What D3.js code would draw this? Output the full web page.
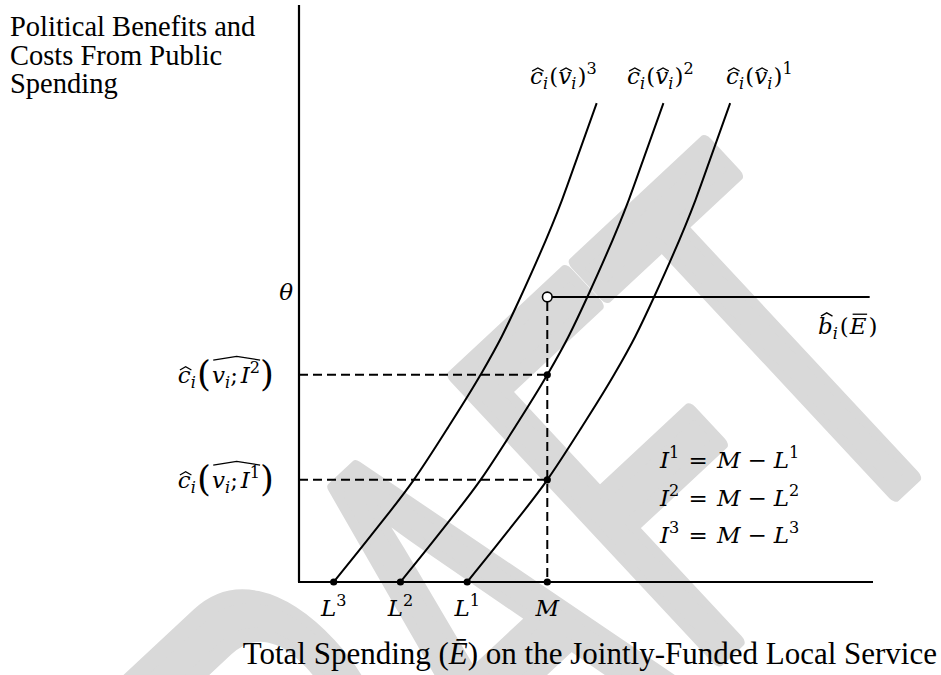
<!DOCTYPE html>
<html>
<head>
<meta charset="utf-8">
<script src="https://cdn.jsdelivr.net/npm/d3@7"></script>
<style>
  html, body { margin: 0; padding: 0; background: #fff; }
  svg { display: block; }
</style>
</head>
<body>
<svg id="chart" width="941" height="675"></svg>
<script>
// Cost curve shape: horizontal distance from the curve's starting spending level, and the cost reached there
const costOffsets = [0, 6.1, 12.0, 17.2, 22.0, 25.2, 28.0, 34.2, 36.9, 39.4];
const costValues  = [0, 8.8, 17.7, 26.9, 35.9, 42.6, 49.4, 66.2, 74.9, 83.0];

// Three cost curves, each starting at its own spending level L^k
const curveIds    = ["1", "2", "3"];
const curveStarts = [25.2, 15.2, 5.2];

// Spending level M and the flat political benefit level theta
const spendingM  = 37.2;
const theta      = 49.4;
const benefitEnd = 85.5;

// Tick labels on the spending axis
const tickBases  = ["L", "L", "L", "M"];
const tickSups   = ["3", "2", "1", ""];
const tickValues = [5.2, 15.2, 25.2, 37.2];

// Title lines
const titleLines = ["Political Benefits and", "Costs From Public", "Spending"];

// Watermark letters and their positions along the baseline (font units)
const wmLetters = ["D", "R", "A", "F", "T"];
const wmOffsets = [-142, -70, 0, 71.5, 129.5];

const svg = d3.select("#chart");

const x = d3.scaleLinear().domain([0, 86]).range([299, 873]);
const y = d3.scaleLinear().domain([0, 100]).range([582, 5]);

const serif = "'Liberation Serif', 'Times New Roman', serif";
const mathFont = "'DejaVu Serif', serif";

// ---- watermark ----
const wm = svg.append("g")
  .attr("transform", "translate(530.3,832.9) rotate(-43) scale(3.19,5.59)");
wm.append("text")
  .attr("font-family", "'Liberation Sans', Arial, sans-serif")
  .attr("font-size", 100)
  .attr("fill", "#d9d9d9")
  .attr("stroke", "#d9d9d9")
  .attr("stroke-width", 3)
  .attr("vector-effect", "non-scaling-stroke")
  .attr("stroke-linejoin", "round")
  .selectAll("tspan")
  .data(wmLetters)
  .join("tspan")
  .attr("x", (d, i) => wmOffsets[i])
  .text(d => d);

// ---- math label layout helper ----
// parts: {s, it, pos:'sub'|'sup', hat, bar, scale, gap, mark}
function mathLabel(parent, parts, fs, opts) {
  const g = parent.append("g");
  let cx = 0;
  const marks = {};
  parts.forEach(p => {
    if (p.mark) { marks[p.mark] = cx; return; }
    if (p.gap) { cx += p.gap * fs; return; }
    const scale = p.scale || 1;
    const size = p.pos ? fs * 0.7 : fs * scale;
    let dy = 0;
    if (p.pos === "sub") dy = fs * 0.22;
    else if (p.pos === "sup") dy = -fs * 0.42;
    else if (scale !== 1) dy = fs * (scale - 1) * 0.26;
    const t = g.append("text")
      .attr("x", cx).attr("y", dy)
      .attr("font-family", p.font || mathFont)
      .attr("font-size", size)
      .attr("font-style", p.it ? "italic" : "normal")
      .attr("fill", "#000")
      .text(p.s);
    const w = t.node().getComputedTextLength();
    if (p.hat) {
      // small circumflex over a single glyph
      const top = p.hat === "tall" ? -fs * 0.92 : -fs * 0.7;
      const mid = cx + w * 0.5 + fs * 0.06;
      const hw = fs * 0.25;
      g.append("path")
        .attr("d", `M${mid - hw},${top + fs * 0.14} L${mid},${top} L${mid + hw},${top + fs * 0.14}`)
        .attr("fill", "none").attr("stroke", "#000").attr("stroke-width", 1.3);
    }
    if (p.bar) {
      const top = -fs * 0.86;
      g.append("line")
        .attr("x1", cx + fs * 0.12).attr("x2", cx + w + fs * 0.02)
        .attr("y1", top).attr("y2", top)
        .attr("stroke", "#000").attr("stroke-width", 1.3);
    }
    cx += w + (p.kern || 0) * fs;
  });
  if (marks.ws !== undefined && marks.we !== undefined) {
    // wide hat spanning a group of glyphs
    const x0 = marks.ws + fs * 0.05, x1 = marks.we;
    const top = -fs * 1.15;
    g.append("path")
      .attr("d", `M${x0},${top + fs * 0.16} L${(x0 + x1) / 2},${top} L${x1},${top + fs * 0.16}`)
      .attr("fill", "none").attr("stroke", "#000").attr("stroke-width", 1.3);
  }
  const anchor = opts.anchor || "start";
  const dx = anchor === "end" ? -cx : anchor === "middle" ? -cx / 2 : 0;
  g.attr("transform", `translate(${opts.x + dx},${opts.y})`);
  return g;
}

const fsMath = 23;

// ---- axes ----
svg.append("line")
  .attr("x1", x(0)).attr("x2", x(0)).attr("y1", y(0)).attr("y2", y(100))
  .attr("stroke", "#000").attr("stroke-width", 2.2);
svg.append("line")
  .attr("x1", x(0) - 1).attr("x2", x(86)).attr("y1", y(0)).attr("y2", y(0))
  .attr("stroke", "#000").attr("stroke-width", 2.2);

// ---- cost curves ----
const line = d3.line()
  .x(d => x(d[0]))
  .y(d => y(d[1]))
  .curve(d3.curveMonotoneX);

curveStarts.forEach((L, k) => {
  const pts = costOffsets.map((o, i) => [L + o, costValues[i]]);
  svg.append("path")
    .attr("d", line(pts))
    .attr("fill", "none")
    .attr("stroke", "#000")
    .attr("stroke-width", 2);
});

// cost of the curve starting at L when spending reaches M
function costAtM(L) {
  const off = spendingM - L;
  const i = costOffsets.findIndex(o => Math.abs(o - off) < 1e-6);
  return costValues[i];
}
const cost1 = costAtM(curveStarts[0]);
const cost2 = costAtM(curveStarts[1]);

// ---- dashed guides ----
const dash = "9,5";
[cost1, cost2].forEach(c => {
  svg.append("line")
    .attr("x1", x(0)).attr("x2", x(spendingM))
    .attr("y1", y(c)).attr("y2", y(c))
    .attr("stroke", "#000").attr("stroke-width", 2).attr("stroke-dasharray", dash);
});
svg.append("line")
  .attr("x1", x(spendingM)).attr("x2", x(spendingM))
  .attr("y1", y(theta) + 5).attr("y2", y(0))
  .attr("stroke", "#000").attr("stroke-width", 2).attr("stroke-dasharray", dash);

// ---- benefit line ----
svg.append("line")
  .attr("x1", x(spendingM)).attr("x2", x(benefitEnd))
  .attr("y1", y(theta)).attr("y2", y(theta))
  .attr("stroke", "#000").attr("stroke-width", 2);

// ---- points ----
const dots = [[spendingM, cost1], [spendingM, cost2], [spendingM, 0]]
  .concat(curveStarts.map(L => [L, 0]));
svg.selectAll("circle.dot").data(dots).join("circle")
  .attr("class", "dot")
  .attr("cx", d => x(d[0])).attr("cy", d => y(d[1]))
  .attr("r", 3.6).attr("fill", "#000");
svg.append("circle")
  .attr("cx", x(spendingM)).attr("cy", y(theta))
  .attr("r", 4.8).attr("fill", "#fff").attr("stroke", "#000").attr("stroke-width", 1.6);

// ---- tick labels ----
tickValues.forEach((v, i) => {
  const parts = [{ s: tickBases[i], it: true }];
  if (tickSups[i]) parts.push({ s: tickSups[i], pos: "sup" });
  mathLabel(svg, parts, fsMath, { x: x(v), y: 616, anchor: "middle" });
});

// ---- curve labels ----
const curveLabelX = [726, 627, 530];
curveIds.forEach((id, k) => {
  mathLabel(svg, [
    { s: "c", it: true, hat: "short" }, { s: "i", it: true, pos: "sub", kern: 0.05 },
    { s: "(" }, { s: "v", it: true, hat: "short" }, { s: "i", it: true, pos: "sub", kern: 0.05 },
    { s: ")" }, { s: id, pos: "sup" }
  ], fsMath, { x: curveLabelX[k], y: 84, anchor: "start" });
});

// ---- theta and benefit labels ----
mathLabel(svg, [{ s: "θ", it: true }], fsMath, { x: 293, y: 300, anchor: "end" });
mathLabel(svg, [
  { s: "b", it: true, hat: "tall" }, { s: "i", it: true, pos: "sub", kern: 0.08 },
  { s: "(", kern: 0.05 }, { s: "E", it: true, bar: true, kern: 0.08 }, { s: ")" }
], fsMath, { x: 818, y: 334, anchor: "start" });

// ---- cost level labels on the vertical axis ----
function costLabel(sup, c) {
  mathLabel(svg, [
    { s: "c", it: true, hat: "short" }, { s: "i", it: true, pos: "sub", kern: 0.05 },
    { s: "(", scale: 1.55, kern: 0.05 }, { mark: "ws" },
    { s: "v", it: true }, { s: "i", it: true, pos: "sub" }, { s: ";", kern: 0.12 },
    { s: "I", it: true }, { s: sup, pos: "sup" }, { mark: "we" },
    { s: ")", scale: 1.55 }
  ], fsMath, { x: 274, y: y(c) + 8, anchor: "end" });
}
costLabel("2", cost2);
costLabel("1", cost1);

// ---- gap equations ----
["1", "2", "3"].forEach((k, i) => {
  mathLabel(svg, [
    { s: "I", it: true }, { s: k, pos: "sup" }, { gap: 0.4 }, { s: "=" }, { gap: 0.4 },
    { s: "M", it: true }, { gap: 0.3 }, { s: "−" }, { gap: 0.3 },
    { s: "L", it: true }, { s: k, pos: "sup" }
  ], fsMath, { x: 660, y: 468 + i * 37.5, anchor: "start" });
});

// ---- title ----
svg.append("text")
  .attr("font-family", serif).attr("font-size", 28.5).attr("fill", "#000")
  .selectAll("tspan").data(titleLines).join("tspan")
  .attr("x", 10).attr("y", (d, i) => 36 + i * 28.5)
  .text(d => d);

// ---- horizontal axis title ----
const xt = svg.append("text")
  .attr("font-family", serif).attr("font-size", 31).attr("fill", "#000")
  .attr("text-anchor", "end")
  .attr("x", 937).attr("y", 664);
xt.append("tspan").text("Total Spending (");
xt.append("tspan").attr("font-style", "italic").text("Ē");
xt.append("tspan").text(") on the Jointly-Funded Local Service");
</script>
</body>
</html>
